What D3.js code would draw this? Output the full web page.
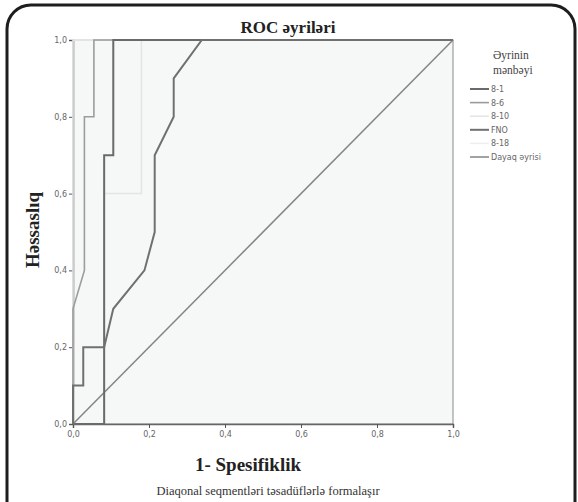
<!DOCTYPE html>
<html>
<head>
<meta charset="utf-8">
<script src="https://cdn.jsdelivr.net/npm/d3@7"></script>
<style>
  body { margin: 0; background: #fff; }
  svg { display: block; }
  .serif { font-family: "Liberation Serif", "DejaVu Serif", serif; }
  .sans { font-family: "DejaVu Sans", sans-serif; }
</style>
</head>
<body>
<div id="chart"></div>
<script>
// ROC curve data (1 - specificity, sensitivity)
const curveNames = ["8-1", "8-6", "8-10", "FNO", "8-18", "Dayaq əyrisi"];
const curveColors = ["#6a6a6a", "#9c9c9c", "#e4e4e4", "#707070", "#eeeeee", "#858585"];
const curveWidths = [2, 1.6, 1.5, 2, 1.5, 1.5];

const fpr81 = [0, 0.082, 0.082, 0.106, 0.106, 1];
const tpr81 = [0, 0, 0.7, 0.7, 1, 1];
const fpr86 = [0, 0, 0.03, 0.03, 0.055, 0.055, 1];
const tpr86 = [0, 0.3, 0.4, 0.8, 0.8, 1, 1];
const fpr810 = [0, 0.082, 0.082, 0.18, 0.18, 1];
const tpr810 = [0, 0, 0.6, 0.6, 1, 1];
const fprFNO = [0, 0, 0.027, 0.027, 0.082, 0.106, 0.188, 0.215, 0.215, 0.265, 0.265, 0.339, 1];
const tprFNO = [0, 0.1, 0.1, 0.2, 0.2, 0.3, 0.4, 0.5, 0.7, 0.8, 0.9, 1, 1];
const fpr818 = [0, 0, 1];
const tpr818 = [0, 1, 1];
const fprRef = [0, 1];
const tprRef = [0, 1];

const tickValues = [0, 0.2, 0.4, 0.6, 0.8, 1];

// Sizing
const W = 578, H = 502;
const plotBox = { left: 73, right: 453, top: 40, bottom: 424 };

const svg = d3.select("#chart").append("svg")
    .attr("width", W)
    .attr("height", H);

// outer rounded frame
svg.append("rect")
    .attr("x", 7).attr("y", 5)
    .attr("width", 568).attr("height", 520)
    .attr("rx", 24)
    .attr("fill", "none")
    .attr("stroke", "#1e1e1e")
    .attr("stroke-width", 3);

const x = d3.scaleLinear().domain([0, 1]).range([plotBox.left, plotBox.right]);
const y = d3.scaleLinear().domain([0, 1]).range([plotBox.bottom, plotBox.top]);

// plot background
svg.append("rect")
    .attr("x", x(0)).attr("y", y(1))
    .attr("width", x(1) - x(0)).attr("height", y(0) - y(1))
    .attr("fill", "#f6f8f8")
    .attr("stroke", "#8a8a8a")
    .attr("stroke-width", 1);

const fmt = d => d3.format(".1f")(d).replace(".", ",");

// axes
const xAxis = svg.append("g")
    .attr("transform", `translate(0,${plotBox.bottom})`)
    .call(d3.axisBottom(x).tickValues(tickValues).tickFormat(fmt).tickSize(4).tickPadding(3));
const yAxis = svg.append("g")
    .attr("transform", `translate(${plotBox.left},0)`)
    .call(d3.axisLeft(y).tickValues(tickValues).tickFormat(fmt).tickSize(4).tickPadding(2));

[xAxis, yAxis].forEach(g => {
    g.attr("font-family", null);
    g.select(".domain").attr("stroke", "#666").attr("stroke-width", 1.5);
    g.selectAll(".tick line").attr("stroke", "#555");
    g.selectAll(".tick text")
        .attr("class", "sans")
        .attr("fill", "#666")
        .style("font-size", "8px");
});

// curves, lightest first
const series = [
    [fpr810, tpr810], [fpr818, tpr818], [fpr86, tpr86],
    [fprRef, tprRef], [fpr81, tpr81], [fprFNO, tprFNO]
];
const seriesIdx = [2, 4, 1, 5, 0, 3];

const line = d3.line().x(d => x(d[0])).y(d => y(d[1]));

series.forEach((s, i) => {
    const k = seriesIdx[i];
    svg.append("path")
        .datum(s[0].map((v, j) => [v, s[1][j]]))
        .attr("d", line)
        .attr("fill", "none")
        .attr("stroke", curveColors[k])
        .attr("stroke-width", curveWidths[k]);
});

// titles
svg.append("text")
    .attr("class", "serif")
    .attr("x", 288).attr("y", 33)
    .attr("text-anchor", "middle")
    .style("font-weight", "bold")
    .style("font-size", "17px")
    .attr("fill", "#222")
    .text("ROC əyriləri");

svg.append("text")
    .attr("class", "serif")
    .attr("x", 248).attr("y", 471)
    .attr("text-anchor", "middle")
    .style("font-weight", "bold")
    .style("font-size", "19px")
    .attr("fill", "#222")
    .text("1- Spesifiklik");

svg.append("text")
    .attr("class", "serif")
    .attr("transform", "translate(39,230) rotate(-90)")
    .attr("text-anchor", "middle")
    .style("font-weight", "bold")
    .style("font-size", "19px")
    .attr("fill", "#222")
    .text("Həssaslıq");

svg.append("text")
    .attr("class", "serif")
    .attr("x", 268).attr("y", 495)
    .attr("text-anchor", "middle")
    .style("font-size", "12.5px")
    .attr("fill", "#333")
    .text("Diaqonal seqmentləri təsadüflərlə formalaşır");

// legend
const legend = svg.append("g");
["Əyrinin", "mənbəyi"].forEach((t, i) => {
    legend.append("text")
        .attr("class", "serif")
        .attr("x", 493).attr("y", 59 + i * 15)
        .style("font-size", "11.5px")
        .attr("fill", "#444")
        .text(t);
});

const ly = d3.scalePoint().domain(curveNames).range([89, 157]);
curveNames.forEach((name, k) => {
    legend.append("line")
        .attr("x1", 470).attr("x2", 489)
        .attr("y1", ly(name)).attr("y2", ly(name))
        .attr("stroke", curveColors[k])
        .attr("stroke-width", curveWidths[k]);
    legend.append("text")
        .attr("class", "sans")
        .attr("x", 491).attr("y", ly(name) + 3)
        .style("font-size", "8px")
        .attr("fill", "#666")
        .text(name);
});
</script>
</body>
</html>
